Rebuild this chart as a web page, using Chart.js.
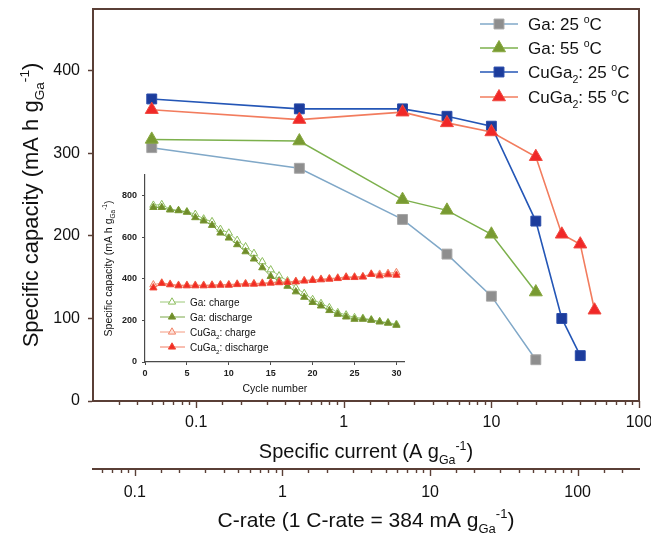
<!DOCTYPE html>
<html><head><meta charset="utf-8">
<script src="https://cdn.jsdelivr.net/npm/chart.js@4.4.1/dist/chart.umd.min.js"></script>
<style>
html,body{margin:0;padding:0;background:#fff;}
#wrap{position:relative;width:651px;height:535px;overflow:hidden;background:#fff;}
#main{position:absolute;left:0;top:0;}
#inset{position:absolute;left:95px;top:165px;}
</style></head><body>
<div id="wrap"><canvas id="main" width="651" height="535"></canvas><canvas id="inset" width="315" height="235"></canvas></div>
<script>
const FONT = "'Liberation Sans', Arial, Helvetica, sans-serif";
const FRAME = '#5a3f36';

// ---- main chart data ----
const currents = [0.05, 0.5, 2.5, 5, 10, 20, 30, 40, 50];       // A g-1
const ga25   = [307, 282, 220, 178, 127, 50];
const ga55   = [317, 315, 244, 231, 202, 132];
const cuga25 = [366, 354, 354, 345, 333, 218, 100, 55];
const cuga55 = [353, 341, 350, 337, 326, 296, 202, 190, 110];
const xTickLabels = [0.1, 1, 10, 100];
const cRateTickLabels = [0.1, 1, 10, 100];
const yTickLabels = [0, 100, 200, 300, 400];
const X_MIN = 0.02, X_MAX = 100, Y_MAX = 475;
const C_RATE = 0.384; // A g-1 per C

// ---- inset data ----
const cycles = [1,2,3,4,5,6,7,8,9,10,11,12,13,14,15,16,17,18,19,20,21,22,23,24,25,26,27,28,29,30];
const gaCharge    = [755,758,735,729,724,711,689,676,639,621,586,555,523,483,444,415,391,357,330,301,282,262,238,227,214,211,204,195,190,182];
const gaDischarge = [744,744,732,729,721,695,679,658,621,597,565,531,496,454,412,391,365,338,312,287,270,248,230,217,206,206,201,193,187,177];
const cuCharge    = [372,381,375,370,370,370,370,371,373,373,376,378,378,380,383,385,386,389,393,396,399,402,405,410,410,412,424,423,427,431];
const cuDischarge = [357,378,372,367,367,367,367,368,370,370,373,375,375,377,380,382,383,386,390,393,396,399,402,407,407,409,422,415,420,418];
const insetYTicks = [0, 200, 400, 600, 800];
const insetXTicks = [0, 5, 10, 15, 20, 25, 30];

function pts(vals){ return vals.map((v,i)=>({x:currents[i], y:v})); }
function cpts(vals){ return vals.map((v,i)=>({x:cycles[i], y:v})); }
function near(a,b){ return Math.abs(a-b) <= Math.abs(b)*1e-6; }
function isPow10(v){ const l=Math.log10(v); return Math.abs(l-Math.round(l))<1e-6; }

function richWidth(ctx, parts, size){
  let w=0;
  parts.forEach(p=>{ const s=p[1]?size*0.62:size; ctx.font=s+'px '+FONT; w+=ctx.measureText(p[0]).width; });
  return w;
}
function drawRich(ctx, parts, x, y, size, align, color){
  const w = richWidth(ctx, parts, size);
  let cx = align==='center' ? x-w/2 : (align==='right' ? x-w : x);
  ctx.textAlign='left'; ctx.textBaseline='alphabetic'; ctx.fillStyle=color||'#111';
  parts.forEach(p=>{
    const k=p[1]; const s=k?size*0.62:size;
    ctx.font=s+'px '+FONT;
    const dy = k==='sub' ? size*0.30 : (k==='sup' ? -size*0.42 : 0);
    ctx.fillText(p[0], cx, y+dy);
    cx += ctx.measureText(p[0]).width;
  });
}
function drawRotRich(ctx, parts, cx, cy, size, color){
  ctx.save(); ctx.translate(cx, cy); ctx.rotate(-Math.PI/2);
  drawRich(ctx, parts, 0, size*0.358, size, 'center', color);
  ctx.restore();
}
function marker(ctx, ds, x, y, r){
  ctx.save();
  ctx.fillStyle = ds.pointBackgroundColor; ctx.strokeStyle = ds.pointBorderColor;
  ctx.lineWidth = ds.pointBorderWidth || 1;
  Chart.helpers.drawPoint(ctx, {pointStyle: ds.pointStyle, radius: r || ds.pointRadius, rotation:0, borderWidth: ds.pointBorderWidth||1}, x, y);
  ctx.restore();
}

const dsGa25  = {label:'Ga: 25 °C', data:pts(ga25), order:3, borderColor:'#80a8c8', pointBackgroundColor:'#8e8e8e', pointBorderColor:'#a6a6a6', pointStyle:'rect', pointRadius:7, borderWidth:1.5, pointBorderWidth:1};
const dsGa55  = {label:'Ga: 55 °C', data:pts(ga55), order:2, borderColor:'#7cb04c', pointBackgroundColor:'#789a32', pointBorderColor:'#88a840', pointStyle:'triangle', pointRadius:7.5, borderWidth:1.5, pointBorderWidth:1};
const dsCu25  = {label:'CuGa₂: 25 °C', data:pts(cuga25), order:1, borderColor:'#2456b6', pointBackgroundColor:'#1c3c9c', pointBorderColor:'#2a4caa', pointStyle:'rect', pointRadius:7, borderWidth:1.6, pointBorderWidth:1};
const dsCu55  = {label:'CuGa₂: 55 °C', data:pts(cuga55), order:0, borderColor:'#f27c5e', pointBackgroundColor:'#f02828', pointBorderColor:'#f04a40', pointStyle:'triangle', pointRadius:7.5, borderWidth:1.6, pointBorderWidth:1};

const mainLegend = [
  [dsGa25, [['Ga: 25 '],['o','sup'],['C']]],
  [dsGa55, [['Ga: 55 '],['o','sup'],['C']]],
  [dsCu25, [['CuGa'],['2','sub'],[': 25 '],['o','sup'],['C']]],
  [dsCu55, [['CuGa'],['2','sub'],[': 55 '],['o','sup'],['C']]]
];
const legendRows = [24, 48, 72, 97];

const mainDecor = {
  id:'mainDecor',
  afterDraw(chart){
    const ctx = chart.ctx, a = chart.chartArea;
    ctx.save();
    // log-axis tick marks
    ['x','x2'].forEach(id=>{
      const s = chart.scales[id];
      ctx.strokeStyle = FRAME; ctx.lineWidth = 1.4;
      s.ticks.forEach(t=>{
        const px = Math.round(s.getPixelForValue(t.value))+0.5;
        const len = isPow10(t.value) ? 7 : 4;
        ctx.beginPath(); ctx.moveTo(px, s.top); ctx.lineTo(px, s.top+len); ctx.stroke();
      });
    });
    // frame
    ctx.strokeStyle = FRAME; ctx.lineWidth = 2;
    ctx.strokeRect(a.left, a.top, a.right-a.left, a.bottom-a.top);
    // axis titles
    const xs = chart.scales.x, x2 = chart.scales.x2;
    const cx = (a.left+a.right)/2;
    drawRich(ctx, [['Specific current (A g'],['Ga','sub'],['-1','sup'],[')']], cx, 458, 20, 'center', '#111');
    drawRich(ctx, [['C-rate (1 C-rate = 384 mA g'],['Ga','sub'],['-1','sup'],[')']], cx, 527, 21, 'center', '#111');
    drawRotRich(ctx, [['Specific capacity (mA h g'],['Ga','sub'],['-1','sup'],[')']], 30, (a.top+a.bottom)/2, 22, '#111');
    // legend
    mainLegend.forEach((e,i)=>{
      const ds=e[0], y=legendRows[i];
      ctx.strokeStyle = ds.borderColor; ctx.lineWidth = 1.6;
      ctx.beginPath(); ctx.moveTo(480, y); ctx.lineTo(518, y); ctx.stroke();
      marker(ctx, ds, 499, y);
      drawRich(ctx, e[1], 528, y+6, 17, 'left', '#111');
    });
    ctx.restore();
  }
};

const tickFont = {family:FONT, size:16};
new Chart(document.getElementById('main'), {
  type:'line',
  data:{datasets:[dsCu55, dsCu25, dsGa55, dsGa25]},
  options:{
    responsive:false, animation:false, devicePixelRatio:1,
    layout:{padding:{left:0, top:9, right:12, bottom:0}},
    plugins:{legend:{display:false}, tooltip:{enabled:false}},
    elements:{line:{tension:0}},
    scales:{
      x:{type:'logarithmic', position:'bottom', weight:0, min:X_MIN, max:X_MAX,
        grid:{display:true, drawOnChartArea:false, drawTicks:false},
        border:{display:true, color:FRAME, width:2},
        ticks:{autoSkip:false, maxRotation:0, minRotation:0, padding:12, font:tickFont, color:'#111',
          callback:(v)=>{ const l=xTickLabels.find(t=>near(v,t)); return l!==undefined? String(l):''; }},
        afterBuildTicks:(s)=>{ s.ticks = s.ticks.filter(t=>t.value>X_MIN*1.001 && t.value<=X_MAX*1.0001); },
        afterFit:(s)=>{ s.height=68; s.paddingLeft=0; s.paddingRight=0; }
      },
      x2:{type:'logarithmic', position:'bottom', weight:1, min:X_MIN/C_RATE, max:X_MAX/C_RATE,
        grid:{display:true, drawOnChartArea:false, drawTicks:false},
        border:{display:true, color:FRAME, width:2},
        ticks:{autoSkip:false, maxRotation:0, minRotation:0, padding:14, font:tickFont, color:'#111',
          callback:(v)=>{ const l=cRateTickLabels.find(t=>near(v,t)); return l!==undefined? String(l):''; }},
        afterBuildTicks:(s)=>{ const mn=X_MIN/C_RATE, mx=X_MAX/C_RATE; s.ticks = s.ticks.filter(t=>t.value>mn*1.001 && t.value<mx*0.999); },
        afterFit:(s)=>{ s.height=66; s.paddingLeft=0; s.paddingRight=0; }
      },
      y:{type:'linear', position:'left', min:0, max:Y_MAX,
        grid:{display:true, drawOnChartArea:false, drawTicks:true, tickLength:5, tickColor:FRAME, tickWidth:1.5},
        border:{display:true, color:FRAME, width:2},
        ticks:{padding:8, font:tickFont, color:'#111'},
        afterBuildTicks:(s)=>{ s.ticks = yTickLabels.map(v=>({value:v})); },
        afterFit:(s)=>{ s.width=93; s.paddingTop=0; s.paddingBottom=0; }
      }
    }
  },
  plugins:[mainDecor]
});

// ---- inset ----
const dsGaC = {label:'Ga: charge', data:cpts(gaCharge), order:3, borderColor:'#9cc878', pointBackgroundColor:'#ffffff', pointBorderColor:'#8cbc5c', pointStyle:'triangle', pointRadius:4.2, borderWidth:1, pointBorderWidth:1};
const dsGaD = {label:'Ga: discharge', data:cpts(gaDischarge), order:2, borderColor:'#7aa848', pointBackgroundColor:'#6f8c2a', pointBorderColor:'#7a9834', pointStyle:'triangle', pointRadius:4.2, borderWidth:1, pointBorderWidth:1};
const dsCuC = {label:'CuGa₂: charge', data:cpts(cuCharge), order:1, borderColor:'#f49a80', pointBackgroundColor:'#fde0d8', pointBorderColor:'#f08468', pointStyle:'triangle', pointRadius:4.2, borderWidth:1, pointBorderWidth:1};
const dsCuD = {label:'CuGa₂: discharge', data:cpts(cuDischarge), order:0, borderColor:'#f27c62', pointBackgroundColor:'#f22a22', pointBorderColor:'#f04a3a', pointStyle:'triangle', pointRadius:4.2, borderWidth:1, pointBorderWidth:1};
const insetLegend = [
  [dsGaC, [['Ga: charge']]],
  [dsGaD, [['Ga: discharge']]],
  [dsCuC, [['CuGa'],['2','sub'],[': charge']]],
  [dsCuD, [['CuGa'],['2','sub'],[': discharge']]]
];
const insetRows = [137, 152, 167, 182];
const INSET_AXIS = '#4a4a4a';
const insetDecor = {
  id:'insetDecor',
  afterDraw(chart){
    const ctx=chart.ctx, a=chart.chartArea;
    ctx.save();
    drawRich(ctx, [['Cycle number']], (a.left+a.right)/2, 227, 10.5, 'center', '#111');
    drawRotRich(ctx, [['Specific capacity (mA h g'],['Ga','sub'],['-1','sup'],[')']], 13, (a.top+a.bottom)/2, 10.5, '#111');
    insetLegend.forEach((e,i)=>{
      const ds=e[0], y=insetRows[i];
      ctx.strokeStyle=ds.borderColor; ctx.lineWidth=1;
      ctx.beginPath(); ctx.moveTo(65,y); ctx.lineTo(90,y); ctx.stroke();
      marker(ctx, ds, 77, y);
      drawRich(ctx, e[1], 95, y+3.7, 10, 'left', '#111');
    });
    ctx.restore();
  }
};
const insetTickFont = {family:FONT, size:9, weight:'bold'};
new Chart(document.getElementById('inset'), {
  type:'line',
  data:{datasets:[dsCuD, dsCuC, dsGaD, dsGaC]},
  options:{
    responsive:false, animation:false, devicePixelRatio:1,
    layout:{padding:{left:0, top:10, right:5, bottom:0}},
    plugins:{legend:{display:false}, tooltip:{enabled:false}},
    elements:{line:{tension:0}},
    scales:{
      x:{type:'linear', position:'bottom', min:0, max:31,
        grid:{display:true, drawOnChartArea:false, drawTicks:true, tickLength:3, tickColor:INSET_AXIS, tickWidth:1},
        border:{display:true, color:INSET_AXIS, width:1.2},
        ticks:{autoSkip:false, maxRotation:0, padding:3, font:insetTickFont, color:'#222'},
        afterBuildTicks:(s)=>{ s.ticks = insetXTicks.map(v=>({value:v})); },
        afterFit:(s)=>{ s.height=38; s.paddingLeft=0; s.paddingRight=0; }
      },
      y:{type:'linear', position:'left', min:0, max:900,
        grid:{display:true, drawOnChartArea:false, drawTicks:true, tickLength:3, tickColor:INSET_AXIS, tickWidth:1},
        border:{display:true, color:INSET_AXIS, width:1.2},
        ticks:{padding:5, font:insetTickFont, color:'#222'},
        afterBuildTicks:(s)=>{ s.ticks = insetYTicks.map(v=>({value:v})); },
        afterFit:(s)=>{ s.width=50; s.paddingTop=0; s.paddingBottom=0; }
      }
    }
  },
  plugins:[insetDecor]
});
</script>
</body></html>
